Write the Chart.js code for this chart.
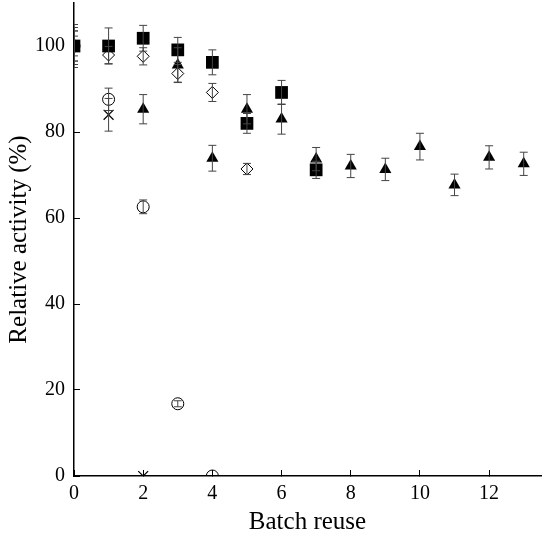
<!DOCTYPE html>
<html lang="en">
<head>
    <meta charset="UTF-8">
    <title>Relative activity vs batch reuse</title>
    <script src="https://cdn.jsdelivr.net/npm/chart.js"></script>
    <style>
        body {
            margin: 0;
            background: white;
        }
        canvas {
            display: block;
        }
    </style>
</head>
<body>
    <canvas id="reuseChart" width="550" height="540"></canvas>

    <script>
        // batch number for each reading
        const batches = [0, 1, 2, 3, 4, 5, 6, 7, 8, 9, 10, 11, 12, 13];

        // filled squares
        const squareVals = [100, 100, 101.8, 99.1, 96.2, 82.0, 89.2, 71.2];
        const squareErr  = [2.3, 4.2, 3.0, 2.9, 2.9, 2.3, 2.8, 2.0];

        // filled triangles (x = 1 hidden under the square, left out)
        const triangleX    = [0, 2, 3, 4, 5, 6, 7, 8, 9, 10, 11, 12, 13];
        const triangleVals = [100, 85.3, 95.6, 73.9, 85.3, 83.0, 73.7, 72.1, 71.3, 76.6, 67.7, 74.1, 72.6];
        const triangleErr  = [3.5, 3.4, 4.0, 3.0, 3.4, 3.5, 2.7, 2.7, 2.6, 3.1, 2.5, 2.7, 2.7];

        // open diamonds
        const diamondVals = [100, 97.9, 97.6, 93.6, 89.2, 71.4];
        const diamondErr  = [4.3, 2.0, 2.0, 2.1, 2.1, 1.3];

        // open circles
        const circleVals = [100, 87.6, 62.6, 16.8, 0];
        const circleErr  = [5.0, 2.6, 1.6, 0.7, 0];

        // crosses
        const crossVals = [100, 84.0, 0];
        const crossErr  = [3.5, 3.8, 0];

        const xTicks = [0, 2, 4, 6, 8, 10, 12];
        const yTicks = [0, 20, 40, 60, 80, 100];

        function points(xs, ys) {
            return ys.map((v, i) => ({ x: xs[i], y: v }));
        }

        // vertical error bars with caps, drawn through the chart scales
        const errorBars = {
            id: 'errorBars',
            afterDatasetsDraw(chart) {
                const ctx = chart.ctx;
                const area = chart.chartArea;
                const yScale = chart.scales.y;
                ctx.save();
                ctx.beginPath();
                ctx.rect(area.left, area.top, area.right - area.left, area.bottom - area.top);
                ctx.clip();
                ctx.strokeStyle = '#444';
                ctx.lineWidth = 1;
                chart.data.datasets.forEach((ds, di) => {
                    const meta = chart.getDatasetMeta(di);
                    meta.data.forEach((pt, i) => {
                        const e = ds.errors[i];
                        if (!e) return;
                        const v = ds.data[i].y;
                        const top = yScale.getPixelForValue(v + e);
                        const bot = yScale.getPixelForValue(v - e);
                        ctx.beginPath();
                        ctx.moveTo(pt.x, top);
                        ctx.lineTo(pt.x, bot);
                        ctx.moveTo(pt.x - 4, top);
                        ctx.lineTo(pt.x + 4, top);
                        ctx.moveTo(pt.x - 4, bot);
                        ctx.lineTo(pt.x + 4, bot);
                        ctx.stroke();
                    });
                });
                ctx.restore();
            }
        };

        Chart.defaults.font.family = '"Liberation Serif", "Times New Roman", serif';
        Chart.defaults.color = '#000';

        new Chart(document.getElementById('reuseChart'), {
            type: 'scatter',
            data: {
                datasets: [
                    {
                        label: 'Square',
                        data: points(batches, squareVals),
                        errors: squareErr,
                        pointStyle: 'rect',
                        pointRadius: 9,
                        backgroundColor: '#000',
                        borderColor: '#000',
                        borderWidth: 0,
                        order: 0
                    },
                    {
                        label: 'Triangle',
                        data: points(triangleX, triangleVals),
                        errors: triangleErr,
                        pointStyle: 'triangle',
                        pointRadius: 7,
                        backgroundColor: '#000',
                        borderColor: '#000',
                        borderWidth: 0,
                        order: 1
                    },
                    {
                        label: 'Diamond',
                        data: points(batches, diamondVals),
                        errors: diamondErr,
                        pointStyle: 'rectRot',
                        pointRadius: 6,
                        backgroundColor: 'rgba(0,0,0,0)',
                        borderColor: '#000',
                        borderWidth: 1,
                        order: 2
                    },
                    {
                        label: 'Circle',
                        data: points(batches, circleVals),
                        errors: circleErr,
                        pointStyle: 'circle',
                        pointRadius: 6,
                        backgroundColor: 'rgba(0,0,0,0)',
                        borderColor: '#000',
                        borderWidth: 1,
                        order: 3
                    },
                    {
                        label: 'Cross',
                        data: points(batches, crossVals),
                        errors: crossErr,
                        pointStyle: 'crossRot',
                        pointRadius: 7,
                        borderColor: '#000',
                        borderWidth: 1.2,
                        order: 4
                    }
                ]
            },
            options: {
                responsive: false,
                animation: false,
                layout: {
                    autoPadding: false,
                    padding: { top: 3, right: 9, bottom: 0, left: 0 }
                },
                plugins: {
                    legend: { display: false },
                    tooltip: { enabled: false }
                },
                scales: {
                    x: {
                        type: 'linear',
                        min: 0,
                        max: 13.5,
                        afterBuildTicks: axis => {
                            axis.ticks = xTicks.map(v => ({ value: v }));
                        },
                        afterFit: scale => {
                            scale.height = 64;
                            scale.paddingLeft = 0;
                            scale.paddingRight = 0;
                        },
                        grid: {
                            drawOnChartArea: false,
                            tickLength: -6,
                            color: '#000'
                        },
                        border: { color: '#000', width: 1.5 },
                        ticks: {
                            padding: 12,
                            maxRotation: 0,
                            font: { size: 20 }
                        },
                        title: {
                            display: true,
                            text: 'Batch reuse',
                            font: { size: 25 },
                            padding: { top: 0, bottom: 3 }
                        }
                    },
                    y: {
                        type: 'linear',
                        min: 0,
                        max: 110,
                        afterBuildTicks: axis => {
                            axis.ticks = yTicks.map(v => ({ value: v }));
                        },
                        afterFit: scale => {
                            scale.width = 74;
                            scale.paddingTop = 0;
                            scale.paddingBottom = 0;
                        },
                        grid: {
                            drawOnChartArea: false,
                            tickLength: -6,
                            color: '#000'
                        },
                        border: { color: '#000', width: 1.5 },
                        ticks: {
                            padding: 15,
                            font: { size: 20 }
                        },
                        title: {
                            display: true,
                            text: 'Relative activity (%)',
                            font: { size: 25 },
                            padding: { top: 4, bottom: 0 }
                        }
                    }
                }
            },
            plugins: [errorBars]
        });
    </script>
</body>
</html>
